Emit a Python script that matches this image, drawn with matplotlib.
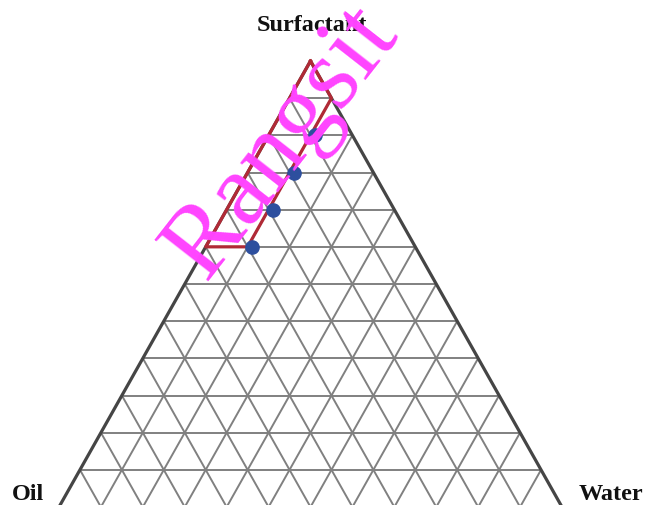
import matplotlib.pyplot as plt

# ternary grid resolution (lines per side)
n_div = 12

# composition points, in grid parts out of 12 (surfactant, water, oil)
dot_surfactant = [10, 9, 8, 7]
dot_water = [1.1, 1.1, 1.1, 1.1]
dot_oil = [0.9, 1.9, 2.9, 3.9]

# boundary of the region, same units
region_surfactant = [12, 11, 7, 7, 12]
region_water = [0, 1, 1, 0, 0]
region_oil = [0, 0, 4, 5, 0]

corner_labels = ["Oil", "Water", "Surfactant"]


def tern_xy(s, w, o):
    # Oil at (0, 0), Water at (1, 0), Surfactant at (0.5, 1)
    xs, ys = [], []
    for si, wi, oi in zip(s, w, o):
        tot = si + wi + oi
        xs.append((wi + si / 2) / tot)
        ys.append(si / tot)
    return xs, ys


W, H = 645, 506
fig = plt.figure(figsize=(W / 100, H / 100), dpi=100)
fig.patch.set_facecolor("white")

# triangle corners in pixels: left (59, 508), right (562, 508), top (311, 62)
ax = fig.add_axes([59 / W, (H - 508) / H, 503 / W, 446 / H])
ax.set_xlim(0, 1)
ax.set_ylim(0, 1)
ax.axis("off")

grid_kw = dict(color="#808080", lw=1.4, zorder=1, solid_capstyle="butt")
for i in range(1, n_div):
    f = i / n_div
    ax.plot([f / 2, 1 - f / 2], [f, f], **grid_kw)          # constant surfactant
    ax.plot([f, f + (1 - f) / 2], [0, 1 - f], **grid_kw)    # constant water
    ax.plot([1 - f, (1 - f) / 2], [0, 1 - f], **grid_kw)    # constant oil

ax.plot([0, 1, 0.5, 0], [0, 0, 1, 0], color="#454545", lw=2.3, zorder=2,
        clip_on=False)

rx, ry = tern_xy(region_surfactant, region_water, region_oil)
ax.plot(rx, ry, color="#b02a36", lw=2.3, zorder=3, clip_on=False)

dx, dy = tern_xy(dot_surfactant, dot_water, dot_oil)
ax.plot(dx, dy, "o", color="#2d4f9e", ms=9.5, mec="#2d4f9e", zorder=4,
        linestyle="none")

lab_kw = dict(family="Liberation Serif", weight="bold", fontsize=17.5,
              color="#111111")
fig.text(12 / W, 1 - 505 / H, corner_labels[0], ha="left", va="bottom",
         **lab_kw)
fig.text(643 / W, 1 - 505 / H, corner_labels[1], ha="right", va="bottom",
         **lab_kw)
fig.text(312 / W, 1 - 31 / H, corner_labels[2], ha="center", va="baseline",
         **lab_kw)

# watermark
fig.text(283 / W, 1 - 142 / H, "Rangsit", family="Liberation Serif",
         fontsize=74, color="#ff44ff", rotation=52, ha="center", va="center",
         rotation_mode="anchor", zorder=10)

fig.savefig("out.png", dpi=100, facecolor="white")
